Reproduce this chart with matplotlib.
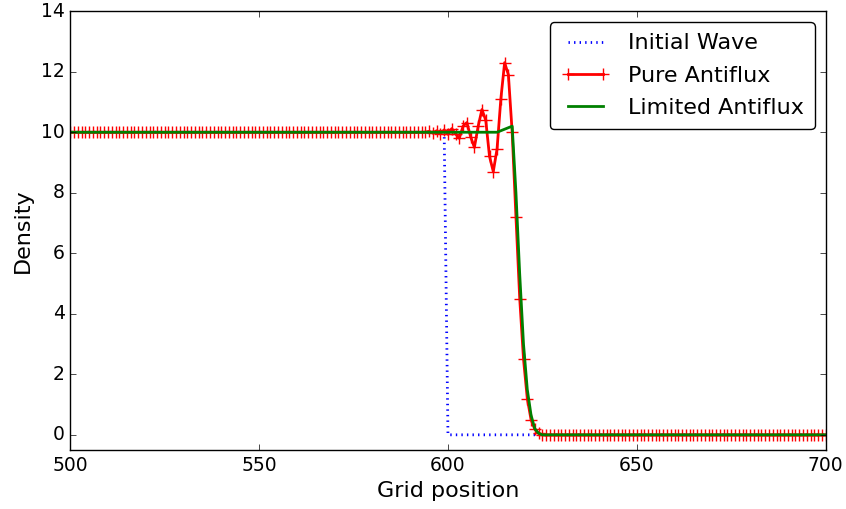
import numpy as np
import matplotlib
matplotlib.use('Agg')
import matplotlib.pyplot as plt

# grid positions (one cell per unit)
x = np.arange(490, 711)

# initial wave: step down between 599 and 600
initial_hi = 10.0
initial_step = 600

# pure antiflux: values read around the front, flat elsewhere
pure_x = [594, 595, 596, 597, 598, 599, 600, 601, 602, 603, 604, 605, 606,
          607, 608, 609, 610, 611, 612, 613, 614, 615, 616, 617, 618, 619,
          620, 621, 622, 623, 624, 625]
pure_y = [10.0, 10.03, 9.97, 10.05, 9.95, 10.08, 9.93, 10.12, 9.95, 9.8,
          10.2, 10.32, 9.85, 9.5, 10.2, 10.75, 10.4, 9.2, 8.7, 9.45, 11.1,
          12.3, 11.9, 10.0, 7.2, 4.5, 2.5, 1.2, 0.5, 0.18, 0.05, 0.0]

# limited antiflux
lim_x = [612, 613, 614, 615, 616, 617, 618, 619, 620, 621, 622, 623, 624, 625]
lim_y = [10.0, 10.0, 10.05, 10.1, 10.15, 10.2, 8.0, 5.3, 3.0, 1.5, 0.65,
         0.2, 0.05, 0.0]


def fill(xs, ys):
    out = np.where(x < xs[0], ys[0], ys[-1]).astype(float)
    for xi, yi in zip(xs, ys):
        out[x == xi] = yi
    return out


initial = np.where(x < initial_step, initial_hi, 0.0)
pure = fill(pure_x, pure_y)
limited = fill(lim_x, lim_y)

plt.style.use('classic')
fig = plt.figure(figsize=(8.46, 5.09), dpi=100)
ax = fig.add_axes([0.083, 0.116, 0.893, 0.862])

ax.plot(x, initial, color='blue', linestyle=':', linewidth=2, label='Initial Wave')
ax.plot(x, pure, color='red', linewidth=2, marker='+', markersize=9,
        markeredgewidth=1.0, markeredgecolor='red', label='Pure Antiflux')
ax.plot(x, limited, color='green', linewidth=2, label='Limited Antiflux')

ax.set_xlim(500, 700)
ax.set_ylim(-0.5, 14)
ax.set_xticks([500, 550, 600, 650, 700])
ax.set_yticks([0, 2, 4, 6, 8, 10, 12, 14])
ax.tick_params(labelsize=13.5)
ax.set_xlabel('Grid position', fontsize=16)
ax.set_ylabel('Density', fontsize=16, labelpad=6)

leg = ax.legend(loc='upper right', fontsize=16, fancybox=True, numpoints=2,
                handlelength=2.2, labelspacing=0.55, borderpad=0.5,
                borderaxespad=0.5)
leg.get_frame().set_edgecolor('black')

fig.savefig('out.png', dpi=100)
